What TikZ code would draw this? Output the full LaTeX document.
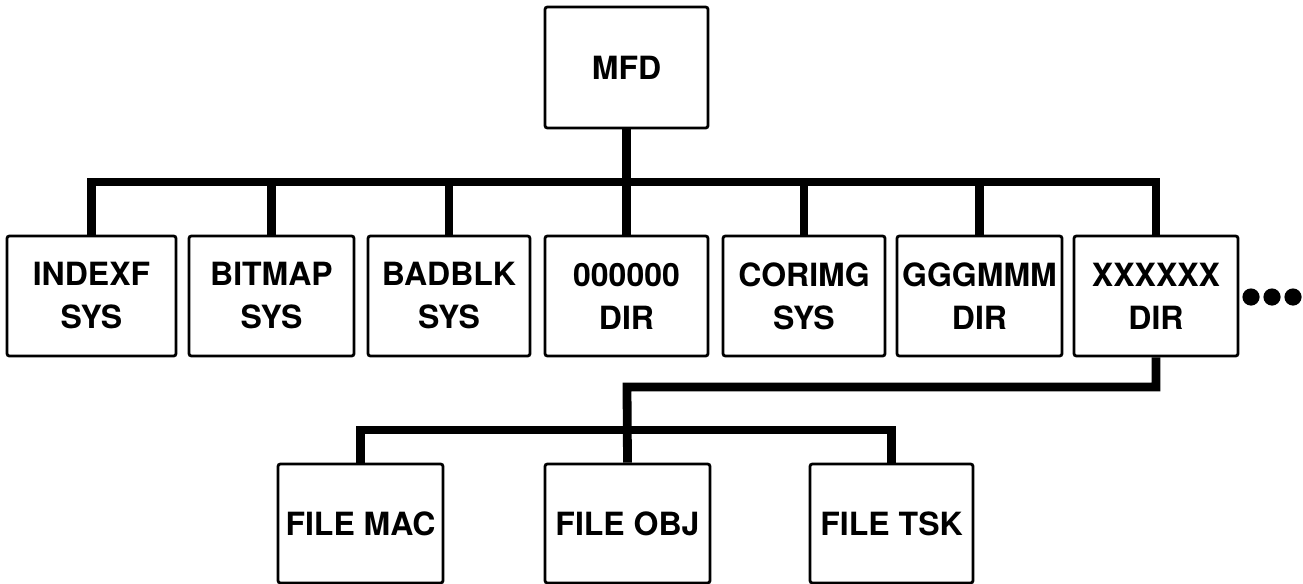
\documentclass[tikz,border=0pt]{standalone}
\usepackage{fontspec}
\setmainfont{TeX Gyre Heros}
\begin{document}
\begin{tikzpicture}[x=0.5pt,y=-0.5pt,
  box/.style={draw=black, line width=1.4pt, rounded corners=1.2pt, rectangle, inner sep=0pt,
    minimum height=60pt, align=center,
    font=\fontsize{16}{21.5}\selectfont\bfseries},
  conn/.style={draw=black, line width=4.4pt, line join=miter},
  dot/.style={circle, fill=black, inner sep=0pt, minimum size=8.6pt}]
\useasboundingbox (0,0) rectangle (1303,584);
% top
\node[box, minimum width=81.5pt, minimum height=60.5pt] (mfd) at (626.5,67.5) {MFD};
% row
\node[box, minimum width=84.5pt] (b1) at (91.5,296) {INDEXF\\SYS};
\node[box, minimum width=82.5pt] (b2) at (271.5,296) {BITMAP\\SYS};
\node[box, minimum width=81pt] (b3) at (449,296) {BADBLK\\SYS};
\node[box, minimum width=81.5pt] (b4) at (626.5,296) {000000\\DIR};
\node[box, minimum width=81pt] (b5) at (804,296) {CORIMG\\SYS};
\node[box, minimum width=82.5pt] (b6) at (979.5,296) {GGGMMM\\DIR};
\node[box, minimum width=82pt] (b7) at (1156,296) {XXXXXX\\DIR};
% dots
\node[dot] (d1) at (1251,297) {};
\node[dot] (d2) at (1272,297) {};
\node[dot] (d3) at (1293,297) {};
% bottom
\node[box, minimum width=82.5pt, minimum height=59.5pt] (f1) at (360.5,523.5) {FILE MAC};
\node[box, minimum width=82.5pt, minimum height=59.5pt] (f2) at (627.5,523.5) {FILE OBJ};
\node[box, minimum width=81.5pt, minimum height=59.5pt] (f3) at (891.5,523.5) {FILE TSK};
% connectors
\coordinate (bus) at (627,182);
\coordinate (mid) at (627,387);
\coordinate (lbus) at (627,430);
\draw[conn] (b1.north) |- (bus) -| (b7.north);
\draw[conn] (mfd.south) -- (b4.north);
\draw[conn] (b2.north) -- (b2.north |- bus);
\draw[conn] (b3.north) -- (b3.north |- bus);
\draw[conn] (b5.north) -- (b5.north |- bus);
\draw[conn] (b6.north) -- (b6.north |- bus);
\draw[conn] (b7.south) |- (mid) -- (f2.north);
\draw[conn] (f1.north) |- (lbus) -| (f3.north);
\end{tikzpicture}
\end{document}
